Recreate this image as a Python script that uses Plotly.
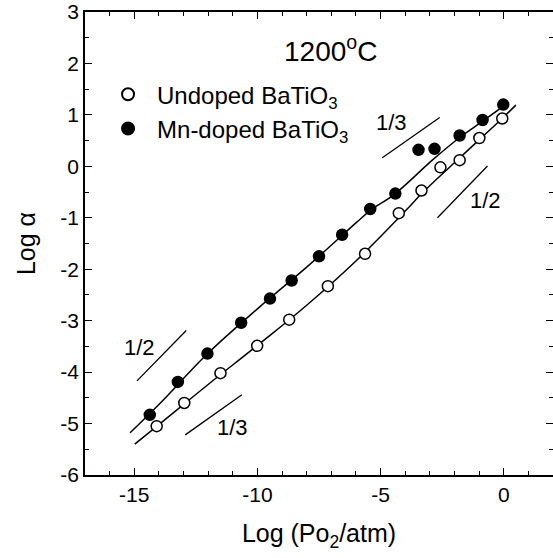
import plotly.graph_objects as go

undoped_x = [-14.09, -12.97, -11.5, -10.01, -8.71, -7.14, -5.63, -4.26, -3.34, -2.57, -1.79, -0.99, -0.06]
undoped_y = [-5.05, -4.60, -4.02, -3.49, -2.98, -2.33, -1.70, -0.91, -0.47, -0.02, 0.12, 0.55, 0.93]

mn_x = [-14.37, -13.23, -12.03, -10.66, -9.49, -8.61, -7.5, -6.56, -5.42, -4.40, -3.46, -2.81, -1.79, -0.86, -0.02]
mn_y = [-4.83, -4.19, -3.64, -3.04, -2.57, -2.22, -1.75, -1.33, -0.83, -0.53, 0.32, 0.34, 0.60, 0.90, 1.20]

# Fitted curves
undoped_fit_x = [-14.98, -14.0, -12.0, -10.0, -8.0, -6.0, -4.0, -3.31, -2.0, -1.01, 0.0, 0.49]
undoped_fit_y = [-5.40, -5.02, -4.24, -3.48, -2.70, -1.84, -0.87, -0.52, 0.07, 0.51, 0.96, 1.19]

mn_fit_x = [-15.17, -14.0, -12.0, -10.0, -8.0, -6.0, -5.4, -4.45, -2.9, -1.79, -0.85, 0.0, 0.16]
mn_fit_y = [-5.18, -4.63, -3.63, -2.77, -1.96, -1.10, -0.85, -0.55, 0.12, 0.56, 0.88, 1.18, 1.26]

# Slope guide segments and their labels
slope_segments = [
    ([-14.89, -12.89], [-4.17, -3.19]),
    ([-12.93, -10.63], [-5.22, -4.44]),
    ([-4.93, -2.60], [0.165, 0.95]),
    ([-2.69, -0.66], [-1.00, 0.007]),
]
slope_labels = ["1/2", "1/3", "1/3", "1/2"]
slope_label_x = [-14.8, -11.0, -4.55, -0.75]
slope_label_y = [-3.52, -5.08, 0.85, -0.67]

x_range = [-17, 2]
y_range = [-6, 3]
x_ticks = [-15, -10, -5, 0]
y_ticks = [-6, -5, -4, -3, -2, -1, 0, 1, 2, 3]

font_family = "Liberation Sans, Arial, sans-serif"

fig = go.Figure()

fig.add_trace(go.Scatter(x=undoped_fit_x, y=undoped_fit_y, mode="lines",
                         line=dict(color="black", width=1.5, shape="spline", smoothing=1.2),
                         showlegend=False, hoverinfo="skip"))
fig.add_trace(go.Scatter(x=mn_fit_x, y=mn_fit_y, mode="lines",
                         line=dict(color="black", width=1.5, shape="spline"),
                         showlegend=False, hoverinfo="skip"))

for sx, sy in slope_segments:
    fig.add_trace(go.Scatter(x=sx, y=sy, mode="lines",
                             line=dict(color="black", width=1.3),
                             showlegend=False, hoverinfo="skip"))

fig.add_trace(go.Scatter(x=undoped_x, y=undoped_y, mode="markers",
                         name="Undoped BaTiO<sub>3</sub>",
                         marker=dict(symbol="circle", size=11, color="white",
                                     line=dict(color="black", width=1.5))))
fig.add_trace(go.Scatter(x=mn_x, y=mn_y, mode="markers",
                         name="Mn-doped BaTiO<sub>3</sub>",
                         marker=dict(symbol="circle", size=11, color="black",
                                     line=dict(color="black", width=1.5))))

for t, lx, ly in zip(slope_labels, slope_label_x, slope_label_y):
    fig.add_annotation(x=lx, y=ly, text=t, showarrow=False,
                       xanchor="center", yanchor="middle",
                       font=dict(size=22, color="black", family=font_family))

fig.add_annotation(x=(330 - 85) / 468, y=(475 - 49) / 463, xref="paper", yref="paper",
                   text="1200<sup>o</sup>C", showarrow=False,
                   xanchor="center", yanchor="middle",
                   font=dict(size=28, color="black", family=font_family))

axis_common = dict(
    showline=True, linecolor="black", linewidth=1.5, mirror="ticks",
    ticks="inside", ticklen=7, tickwidth=1.3, tickcolor="black",
    showgrid=False, zeroline=False, automargin=False,
    tickfont=dict(size=21, color="black", family=font_family),
)

fig.update_xaxes(range=x_range, tickvals=x_ticks, ticktext=[str(v) for v in x_ticks],
                 minor=dict(dtick=1, ticks="inside", ticklen=4, tickwidth=1.2, tickcolor="black"),
                 title=dict(text="Log (Po<sub>2</sub>/atm)", standoff=20,
                            font=dict(size=25, color="black", family=font_family)),
                 **axis_common)
fig.update_yaxes(range=y_range, tickvals=y_ticks, ticktext=[str(v) for v in y_ticks],
                 minor=dict(dtick=0.5, ticks="inside", ticklen=4, tickwidth=1.2, tickcolor="black"),
                 title=dict(text="Log α", standoff=18,
                            font=dict(size=25, color="black", family=font_family)),
                 **axis_common)

fig.update_layout(
    width=553, height=558,
    margin=dict(l=85, r=0, t=12, b=83),
    paper_bgcolor="white", plot_bgcolor="white",
    font=dict(family=font_family, color="black"),
    legend=dict(x=0.03, y=0.87, xanchor="left", yanchor="top",
                bgcolor="rgba(0,0,0,0)", font=dict(size=24, color="black", family=font_family),
                itemsizing="constant", itemwidth=48, tracegroupgap=0),
)

fig.write_html("out.html", config={"displayModeBar": False},
               post_script="document.body.style.margin='0';document.body.style.overflow='hidden';")
